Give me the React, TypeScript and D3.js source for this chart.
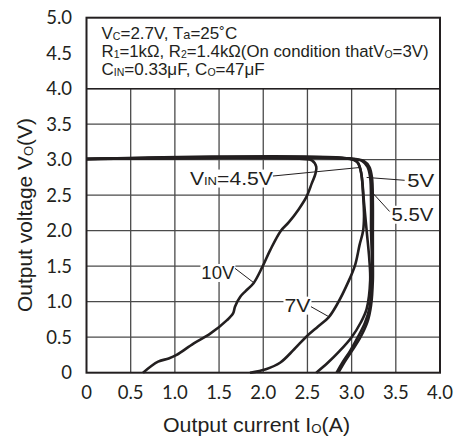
import React from "react";
import * as d3 from "d3";

// ---- data ----
const xTicks = [0, 0.5, 1, 1.5, 2, 2.5, 3, 3.5, 4];
const xTickLabels = ["0", "0.5", "1.0", "1.5", "2.0", "2.5", "3.0", "3.5", "4.0"];
const yTicks = [0, 0.5, 1, 1.5, 2, 2.5, 3, 3.5, 4, 4.5, 5];
const yTickLabels = ["0", "0.5", "1.0", "1.5", "2.0", "2.5", "3.0", "3.5", "4.0", "4.5", "5.0"];

// [Io (A), Vo (V)]
const vin45: [number, number][] = [
  [0, 3.01], [2.98, 3.01], [3.06, 2.97], [3.1, 2.86], [3.12, 2.7], [3.14, 2.4], [3.17, 2.0],
  [3.2, 1.6], [3.21, 1.3], [3.17, 0.9], [3.1, 0.7], [3.0, 0.5], [2.86, 0.3], [2.73, 0.14], [2.6, 0],
];
const vin5: [number, number][] = [
  [0, 3.01], [3.02, 3.01], [3.12, 2.98], [3.18, 2.9], [3.21, 2.75], [3.22, 2.4], [3.22, 2.0],
  [3.23, 1.6], [3.23, 1.3], [3.2, 0.9], [3.15, 0.7], [3.07, 0.5], [2.98, 0.3], [2.9, 0.15], [2.83, 0],
];
const vin55: [number, number][] = [
  [0, 3.01], [3.04, 3.01], [3.14, 2.98], [3.2, 2.9], [3.23, 2.75], [3.24, 2.4], [3.24, 2.0],
  [3.24, 1.6], [3.24, 1.3], [3.22, 0.95], [3.18, 0.72], [3.1, 0.5], [3.0, 0.3], [2.92, 0.15], [2.85, 0],
];
const vin7: [number, number][] = [
  [0, 3.01], [3.0, 3.01], [3.07, 2.96], [3.11, 2.8], [3.13, 2.5], [3.14, 2.2], [3.13, 2.0],
  [3.09, 1.8], [3.04, 1.52], [2.97, 1.3], [2.83, 0.95], [2.74, 0.78], [2.62, 0.65], [2.49, 0.51],
  [2.35, 0.33], [2.19, 0.14], [2.03, 0.05], [1.85, 0],
];
const vin10: [number, number][] = [
  [0, 3.01], [2.45, 3.01], [2.55, 2.99], [2.6, 2.9], [2.59, 2.8], [2.55, 2.67], [2.49, 2.48],
  [2.4, 2.3], [2.29, 2.12], [2.2, 2.0], [2.08, 1.73], [1.99, 1.49], [1.89, 1.26], [1.8, 1.15],
  [1.74, 1.07], [1.68, 0.93], [1.66, 0.84], [1.59, 0.74], [1.4, 0.55], [1.21, 0.41], [1.02, 0.25],
  [0.93, 0.2], [0.81, 0.155], [0.64, 0],
];
const seriesList = [vin10, vin7, vin45, vin5, vin55];

// label annotations: text parts, text anchor point, leader from/to (data units)
const labels = [
  { parts: [["V", 0], ["IN", 1], ["=4.5V", 0]], at: [1.17, 2.65], w: 83, from: [2.11, 2.77], to: [3.09, 2.89] },
  { parts: [["5V", 0]], at: [3.63, 2.62], w: 27, from: [3.6, 2.71], to: [3.17, 2.75] },
  { parts: [["5.5V", 0]], at: [3.45, 2.14], w: 42, from: [3.43, 2.27], to: [3.24, 2.53] },
  { parts: [["10V", 0]], at: [1.3, 1.32], w: 33, from: [1.68, 1.47], to: [1.89, 1.27] },
  { parts: [["7V", 0]], at: [2.24, 0.86], w: 26, from: [2.54, 0.93], to: [2.74, 0.79] },
];

const W = 456;
const H = 439;
const x = d3.scaleLinear().domain([0, 4]).range([86.5, 440]);
const y = d3.scaleLinear().domain([0, 5]).range([372.7, 17.7]);

const INK = "#231f20";
const SANS = "'Liberation Sans', Arial, sans-serif";
const TICKF = "Lato, 'Open Sans', sans-serif";

export default function App() {
  const line = d3
    .line<[number, number]>()
    .x((d) => x(d[0]))
    .y((d) => y(d[1]))
    .curve(d3.curveCatmullRom.alpha(0.5));

  return (
    <svg
      width={W}
      height={H}
      style={{ position: "absolute", left: 0, top: 0, background: "#fff" }}
      fontFamily={SANS}
    >
      <rect x={0} y={0} width={W} height={H} fill="#fff" />
      {/* grid */}
      {xTicks.slice(1, -1).map((t) => (
        <line key={"gx" + t} x1={x(t)} x2={x(t)} y1={y(4)} y2={y(0)} stroke="#4a4a4a" strokeWidth={1.3} />
      ))}
      {yTicks.filter((t) => t > 0 && t <= 4).map((t) => (
        <line key={"gy" + t} x1={x(0)} x2={x(4)} y1={y(t)} y2={y(t)} stroke="#4a4a4a" strokeWidth={1.3} />
      ))}
      {/* frame */}
      <rect x={x(0)} y={y(5)} width={x(4) - x(0)} height={y(0) - y(5)} fill="none" stroke={INK} strokeWidth={2} />
      <line x1={x(0)} x2={x(4)} y1={y(4)} y2={y(4)} stroke={INK} strokeWidth={1.6} />

      {/* box text */}
      <g fontSize={17} fill={INK}>
        <text x={x(0.17)} y={y(4.7)}>
          V<tspan fontSize="0.62em" dy={1}>C</tspan><tspan dy={-1}>=2.7V, T</tspan>
          <tspan fontSize="0.75em">a</tspan><tspan>=25˚C</tspan>
        </text>
        <text x={x(0.17)} y={y(4.445)} fontSize={16.8}>
          R<tspan fontSize="0.62em" dy={1}>1</tspan><tspan dy={-1}>=1kΩ, R</tspan>
          <tspan fontSize="0.62em" dy={1}>2</tspan><tspan dy={-1}>=1.4kΩ(On condition thatV</tspan>
          <tspan fontSize="0.62em" dy={1}>O</tspan><tspan dy={-1}>=3V)</tspan>
        </text>
        <text x={x(0.17)} y={y(4.19)}>
          C<tspan fontSize="0.62em" dy={1}>IN</tspan><tspan dy={-1}>=0.33μF, C</tspan>
          <tspan fontSize="0.62em" dy={1}>O</tspan><tspan dy={-1}>=47μF</tspan>
        </text>
      </g>

      {/* label backgrounds */}
      {labels.map((l, i) => (
        <rect key={"bg" + i} x={x(l.at[0]) - 1} y={y(l.at[1]) - 15} width={l.w + 2} height={18} fill="#fff" />
      ))}

      {/* curves */}
      {seriesList.map((s, i) => (
        <path key={"s" + i} d={line(s) || ""} fill="none" stroke={INK} strokeWidth={2.6} strokeLinejoin="round" />
      ))}

      {/* leaders */}
      {labels.map((l, i) => (
        <line key={"ld" + i} x1={x(l.from[0])} y1={y(l.from[1])} x2={x(l.to[0])} y2={y(l.to[1])} stroke={INK} strokeWidth={1} />
      ))}
      {labels.map((l, i) => (
        <text
          key={"lt" + i}
          x={x(l.at[0])}
          y={y(l.at[1])}
          fontSize={18.5}
          fill={INK}
          textLength={l.w}
          lengthAdjust="spacingAndGlyphs"
        >
          {l.parts.map((p, j) =>
            p[1] ? (
              <tspan key={j} fontSize="0.62em">{p[0] as string}</tspan>
            ) : (
              <tspan key={j}>{p[0] as string}</tspan>
            )
          )}
        </text>
      ))}

      {/* ticks */}
      <g fontFamily={TICKF} fontSize={18.5} fill={INK}>
        {xTicks.map((t, i) => (
          <text key={"xt" + t} x={x(t)} y={y(0) + 26} textAnchor="middle">{xTickLabels[i]}</text>
        ))}
        {yTicks.map((t, i) => (
          <text key={"yt" + t} x={72} y={y(t) + 6.5} textAnchor="end">{yTickLabels[i]}</text>
        ))}
      </g>

      {/* axis titles */}
      <text
        x={256.5}
        y={432}
        textAnchor="middle"
        fontSize={19.5}
        fill={INK}
        textLength={187}
        lengthAdjust="spacingAndGlyphs"
      >
        Output current I<tspan fontSize="0.62em" dy={1}>O</tspan><tspan dy={-1}>(A)</tspan>
      </text>
      <text
        transform="translate(32, 215) rotate(-90)"
        textAnchor="middle"
        fontSize={19.5}
        fill={INK}
        textLength={194}
        lengthAdjust="spacingAndGlyphs"
      >
        Output voltage V<tspan fontSize="0.62em" dy={1}>O</tspan><tspan dy={-1}>(V)</tspan>
      </text>
    </svg>
  );
}
